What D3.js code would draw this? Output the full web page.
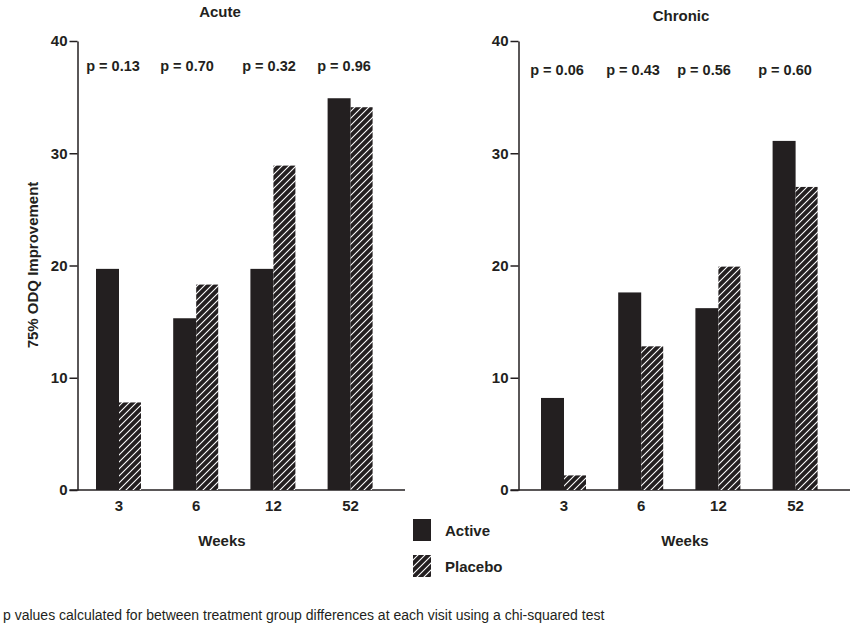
<!DOCTYPE html>
<html><head><meta charset="utf-8">
<script src="https://cdn.jsdelivr.net/npm/d3@7"></script>
<style>body{margin:0;background:#fff}text{font-family:"Liberation Sans",Arial,sans-serif}</style>
</head><body><svg width="850" height="624"></svg>
<script>
const weeks = ["3","6","12","52"];
const acuteActive = [19.7, 15.3, 19.7, 34.9];
const acutePlacebo = [7.8, 18.3, 28.9, 34.1];
const acuteP = ["p = 0.13","p = 0.70","p = 0.32","p = 0.96"];
const chronicActive = [8.2, 17.6, 16.2, 31.1];
const chronicPlacebo = [1.3, 12.8, 19.9, 27.0];
const chronicP = ["p = 0.06","p = 0.43","p = 0.56","p = 0.60"];
const yTicks = [0,10,20,30,40];

const svg = d3.select("svg");
const defs = svg.append("defs");
const pat = defs.append("pattern").attr("id","hatch").attr("patternUnits","userSpaceOnUse")
  .attr("width",7).attr("height",7);
pat.append("rect").attr("width",7).attr("height",7).attr("fill","#231f20");
pat.append("path").attr("d","M-1,8 L8,-1 M-1,1 L1,-1 M6,8 L8,6").attr("stroke","#fff").attr("stroke-width",1.1);

const y = d3.scaleLinear().domain([0,40]).range([490,41]);

function panel(axisX, xEnd, c0, title, titleX, act, pla, pv, pX, pY, weeksX){
  const g = svg.append("g");
  const x = d3.scalePoint().domain(weeks).range([c0, c0+3*77.2]);
  const ya = d3.axisLeft(y).tickValues(yTicks).tickSize(8).tickSizeOuter(0);
  const ax = g.append("g").attr("transform",`translate(${axisX},0)`).call(ya);
  ax.select(".domain").attr("stroke","#231f20").attr("stroke-width",1.5);
  ax.selectAll(".tick line").attr("stroke","#231f20").attr("stroke-width",1.5);
  ax.selectAll(".tick text").attr("font-size",15).attr("font-weight","bold").attr("fill","#231f20").attr("x",-10);
  g.append("line").attr("x1",axisX-8).attr("x2",xEnd).attr("y1",y(0)).attr("y2",y(0)).attr("stroke","#231f20").attr("stroke-width",1.5);
  const bw = 23;
  g.selectAll(".a").data(act).join("rect").attr("x",(d,i)=>x(weeks[i])-bw).attr("width",bw)
    .attr("y",d=>y(d)).attr("height",d=>y(0)-y(d)).attr("fill","#231f20");
  g.selectAll(".p").data(pla).join("rect").attr("x",(d,i)=>x(weeks[i])).attr("width",bw-1)
    .attr("y",d=>y(d)).attr("height",d=>y(0)-y(d)).attr("fill","url(#hatch)");
  g.selectAll(".wk").data(weeks).join("text").attr("x",d=>x(d)).attr("y",511).attr("text-anchor","middle")
    .attr("font-size",15).attr("font-weight","bold").attr("fill","#231f20").text(d=>d);
  g.selectAll(".pv").data(pv).join("text").attr("x",(d,i)=>pX[i]).attr("y",pY).attr("text-anchor","middle")
    .attr("font-size",14.5).attr("font-weight","bold").attr("fill","#231f20").text(d=>d);
  g.append("text").attr("x",titleX).attr("y",title==="Acute"?17:21).attr("text-anchor","middle")
    .attr("font-size",15).attr("font-weight","bold").attr("fill","#231f20").text(title);
  g.append("text").attr("x",weeksX).attr("y",546).attr("text-anchor","middle")
    .attr("font-size",15).attr("font-weight","bold").attr("fill","#231f20").text("Weeks");
}
panel(77.5, 405, 119, "Acute", 220, acuteActive, acutePlacebo, acuteP, [113,187,269,344], 71, 222);
panel(518.5, 850, 564, "Chronic", 681, chronicActive, chronicPlacebo, chronicP, [557,633,704,785], 75, 685);

svg.append("text").attr("transform","translate(38,265) rotate(-90)").attr("text-anchor","middle")
  .attr("font-size",15).attr("font-weight","bold").attr("fill","#231f20").text("75% ODQ Improvement");

const leg = [{n:"Active",f:"#231f20",y:519},{n:"Placebo",f:"url(#hatch)",y:555}];
leg.forEach(l=>{
  svg.append("rect").attr("x",413).attr("y",l.y).attr("width",18).attr("height",22).attr("fill",l.f);
  svg.append("text").attr("x",445).attr("y",l.y+17).attr("font-size",15).attr("font-weight","bold").attr("fill","#231f20").text(l.n);
});
svg.append("text").attr("x",3).attr("y",620).attr("font-size",14).attr("fill","#231f20")
  .text("p values calculated for between treatment group differences at each visit using a chi-squared test");
</script></body></html>
